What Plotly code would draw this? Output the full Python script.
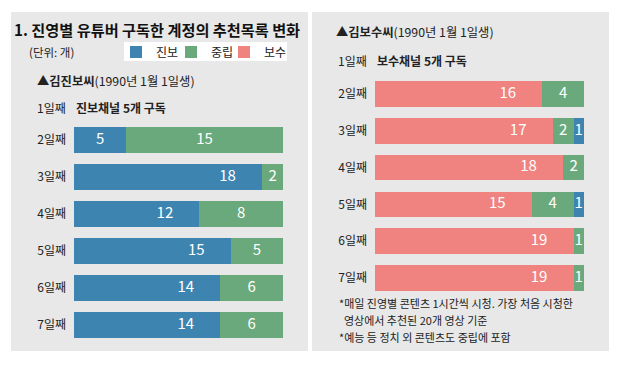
import plotly.graph_objects as go

# ---------------- data ----------------
days = ["2일째", "3일째", "4일째", "5일째", "6일째", "7일째"]
left_prog = [5, 18, 12, 15, 14, 14]     # 김진보씨: 진보
left_neut = [15, 2, 8, 5, 6, 6]         # 김진보씨: 중립
right_cons = [16, 17, 18, 15, 19, 19]   # 김보수씨: 보수
right_neut = [4, 2, 2, 4, 1, 1]         # 김보수씨: 중립
right_prog = [0, 1, 0, 1, 0, 0]         # 김보수씨: 진보

series_names = ["진보", "중립", "보수"]
title_text = "1. 진영별 유튜버 구독한 계정의 추천목록 변화"
unit_text = "(단위: 개)"
left_person = "▲김진보씨"
right_person = "▲김보수씨"
birth_text = "(1990년 1월 1일생)"
day1_label = "1일째"
left_day1 = "진보채널 5개 구독"
right_day1 = "보수채널 5개 구독"
notes = ["*매일 진영별 콘텐츠 1시간씩 시청. 가장 처음 시청한",
         "\u00a0\u00a0영상에서 추천된 20개 영상 기준",
         "*예능 등 정치 외 콘텐츠도 중립에 포함"]

# ---------------- style ----------------
W, H = 627, 373
BLUE = "#3d85b0"
GREEN = "#6aa97b"
RED = "#f0837f"
PANEL = "#e8e8e8"
TXT = "#222222"
KR = "Noto Sans CJK KR"
NUM = "Liberation Sans Narrow, Noto Sans CJK KR"


def px(x):
    return x / W


def py(y):
    return 1 - y / H


fig = go.Figure()

bar_common = dict(orientation="h", width=0.7, marker_line_width=0,
                  textposition="none", hoverinfo="x+y")

# left panel bars
fig.add_trace(go.Bar(y=days, x=left_prog, name=series_names[0], marker_color=BLUE,
                     xaxis="x", yaxis="y", legend="legend", **bar_common))
fig.add_trace(go.Bar(y=days, x=left_neut, name=series_names[1], marker_color=GREEN,
                     xaxis="x", yaxis="y", legend="legend2", **bar_common))
# right panel bars
fig.add_trace(go.Bar(y=days, x=right_cons, name=series_names[2], marker_color=RED,
                     xaxis="x2", yaxis="y2", legend="legend3", **bar_common))
fig.add_trace(go.Bar(y=days, x=right_neut, name=series_names[1], marker_color=GREEN,
                     xaxis="x2", yaxis="y2", showlegend=False, **bar_common))
fig.add_trace(go.Bar(y=days, x=right_prog, name=series_names[0], marker_color=BLUE,
                     xaxis="x2", yaxis="y2", showlegend=False, **bar_common))


def labels(first, rest):
    """value labels: big first segment labelled near its end, others centred"""
    xs, ys, ts = [], [], []
    for i, d in enumerate(days):
        v = first[i]
        if v > 0:
            xs.append(v - 3.3 if v >= 10 else v / 2)
            ys.append(d)
            ts.append(str(v))
        start = v
        for seg in rest:
            s = seg[i]
            if s > 0:
                xs.append(start + s / 2)
                ys.append(d)
                ts.append(str(s))
            start += s
    return xs, ys, ts


lx, ly, lt = labels(left_prog, [left_neut])
fig.add_trace(go.Scatter(x=lx, y=ly, text=lt, mode="text", xaxis="x", yaxis="y",
                         textfont=dict(color="white", size=15, family=NUM),
                         showlegend=False, hoverinfo="skip"))
rx, ry, rt = labels(right_cons, [right_neut, right_prog])
fig.add_trace(go.Scatter(x=rx, y=ry, text=rt, mode="text", xaxis="x2", yaxis="y2",
                         textfont=dict(color="white", size=15, family=NUM),
                         showlegend=False, hoverinfo="skip"))

xcommon = dict(range=[0, 20], visible=False, fixedrange=True)
ycommon = dict(type="category", categoryorder="array", categoryarray=days,
               range=[5.5, -0.5], showgrid=False, zeroline=False, showline=False,
               ticks="", ticklabelstandoff=7,
               tickfont=dict(family=KR, size=12, color=TXT), fixedrange=True)

legend_common = dict(orientation="h", bgcolor="rgba(0,0,0,0)", borderwidth=0,
                     font=dict(family=KR, size=12, color=TXT), itemwidth=30,
                     xanchor="left", yanchor="middle", y=py(52),
                     itemclick=False, itemdoubleclick=False)

ann = []


def add_text(x, y, text, size=12, xanchor="left", xref="paper", color=TXT):
    ann.append(dict(x=x, y=y, xref=xref, yref="paper", text=text, showarrow=False,
                    xanchor=xanchor, yanchor="middle",
                    font=dict(family=KR, size=size, color=color)))


add_text(px(12), py(29), f"<b>{title_text}</b>", size=15.2, color="#111111")
add_text(px(27), py(52), unit_text, size=11.5)
add_text(px(35), py(81), f"<b>{left_person}</b>{birth_text}", size=12.3)
add_text(px(68), py(108), day1_label, xanchor="right")
add_text(0, py(108), f"<b>{left_day1}</b>", xref="x")
add_text(px(334), py(32), f"<b>{right_person}</b>{birth_text}", size=12.3)
add_text(px(369), py(60), day1_label, xanchor="right")
add_text(0, py(60), f"<b>{right_day1}</b>", xref="x2")
for i, line in enumerate(notes):
    add_text(px(337), py(303 + 17 * i), line, size=11)

shapes = [
    dict(type="rect", xref="paper", yref="paper", x0=px(11), x1=px(308), y0=py(351), y1=py(12),
         fillcolor=PANEL, line_width=0, layer="below"),
    dict(type="rect", xref="paper", yref="paper", x0=px(312), x1=px(609), y0=py(351), y1=py(12),
         fillcolor=PANEL, line_width=0, layer="below"),
    dict(type="rect", xref="paper", yref="paper", x0=px(124), x1=px(287), y0=py(61), y1=py(42),
         fillcolor="white", line_width=0, layer="below"),
]

fig.update_layout(
    width=W, height=H, margin=dict(l=0, r=0, t=0, b=0),
    paper_bgcolor="white", plot_bgcolor="rgba(0,0,0,0)",
    barmode="stack", bargap=0.3,
    font=dict(family=KR, color=TXT),
    xaxis=dict(domain=[px(74), px(283)], anchor="y", **xcommon),
    yaxis=dict(domain=[py(343.5), py(121.5)], anchor="x", **ycommon),
    xaxis2=dict(domain=[px(375), px(584)], anchor="y2", **xcommon),
    yaxis2=dict(domain=[py(296.4), py(75.6)], anchor="x2", **ycommon),
    legend=dict(x=px(116), **legend_common),
    legend2=dict(x=px(171), **legend_common),
    legend3=dict(x=px(224), **legend_common),
    shapes=shapes, annotations=ann,
    showlegend=True,
)

fig.write_html("out.html", config={"displayModeBar": False},
               post_script="document.body.style.margin='0';")
